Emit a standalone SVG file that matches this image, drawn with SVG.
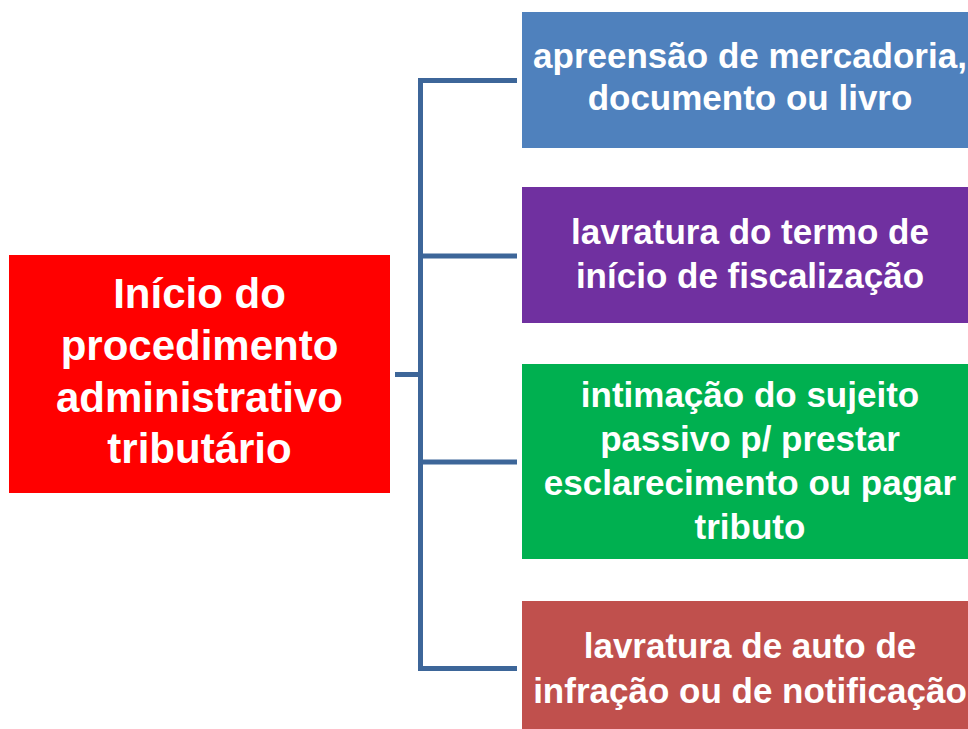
<svg xmlns="http://www.w3.org/2000/svg" width="968" height="729" viewBox="0 0 968 729">
<style>
.t{font-family:"Liberation Sans","Open Sans",Arial,sans-serif;font-weight:bold;fill:#fff;text-anchor:middle}
.r{font-size:35px}
.l{font-size:42px}
.c{fill:none;stroke:#3D6699;stroke-width:5;stroke-linejoin:miter}
</style>
<rect width="968" height="729" fill="#fff"/>
<g id="connectors">
<path class="c" d="M517,80.5 H420.5 V668.5 H517"/>
<path class="c" d="M420.5,256 H517"/>
<path class="c" d="M420.5,462 H517"/>
<path class="c" d="M395,374.5 H420.5"/>
</g>
<g id="inicio">
<rect x="9" y="255" width="381" height="238" fill="#FF0000"/>
<text class="t l" x="199.5" y="308">Início do</text>
<text class="t l" x="199.5" y="360">procedimento</text>
<text class="t l" x="199.5" y="411.5">administrativo</text>
<text class="t l" x="199.5" y="463">tributário</text>
</g>
<g id="apreensao">
<rect x="522" y="12" width="460" height="136" fill="#4F81BD"/>
<text class="t r" x="750" y="68">apreensão de mercadoria,</text>
<text class="t r" x="750" y="110">documento ou livro</text>
</g>
<g id="termo">
<rect x="522" y="187" width="460" height="136" fill="#7030A0"/>
<text class="t r" x="750" y="244">lavratura do termo de</text>
<text class="t r" x="750" y="288">início de fiscalização</text>
</g>
<g id="intimacao">
<rect x="522" y="364" width="460" height="195" fill="#00B050"/>
<text class="t r" x="750" y="407">intimação do sujeito</text>
<text class="t r" x="750" y="451">passivo p/ prestar</text>
<text class="t r" x="750" y="495">esclarecimento ou pagar</text>
<text class="t r" x="750" y="539">tributo</text>
</g>
<g id="auto">
<rect x="522" y="601" width="460" height="140" fill="#C0504D"/>
<text class="t r" x="750" y="658">lavratura de auto de</text>
<text class="t r" x="750" y="703">infração ou de notificação</text>
</g>
</svg>
